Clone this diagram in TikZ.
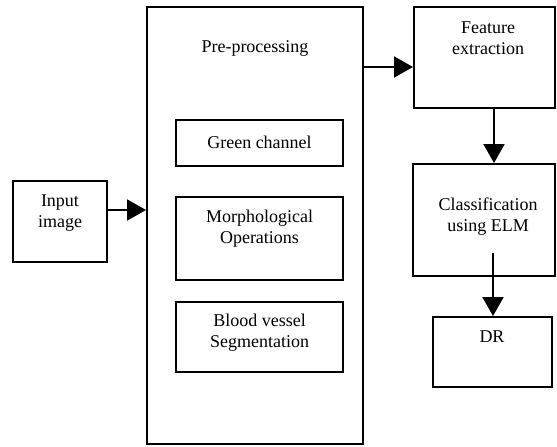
\documentclass[tikz,border=0pt]{standalone}
\usepackage{fontspec}
\setmainfont{Liberation Serif}
\usetikzlibrary{arrows.meta}
\tikzset{
  box/.style={draw=black, line width=2pt, rectangle, inner sep=0pt, fill=white},
  lbl/.style={align=center, inner sep=0pt, font=\fontsize{18}{21}\selectfont},
  arr/.style={line width=2pt, -{Triangle[length=19pt,width=21pt]}}
}
\begin{document}
\begin{tikzpicture}[x=1pt,y=-1pt]
\useasboundingbox (0,0) rectangle (557,447);
% boxes
\node[box, minimum width=94pt, minimum height=81pt] (inp) at (60,221.5) {};
\node[box, minimum width=216pt, minimum height=437pt] (pre) at (255,225.5) {};
\node[box, minimum width=167pt, minimum height=46pt] (green) at (259.5,143) {};
\node[box, minimum width=167pt, minimum height=83pt] (morph) at (259.5,238.5) {};
\node[box, minimum width=167pt, minimum height=70pt] (blood) at (259.5,337) {};
\node[box, minimum width=141pt, minimum height=101pt] (feat) at (484.5,57.5) {};
\node[box, minimum width=142pt, minimum height=112pt] (cls) at (484,220) {};
\node[box, minimum width=119pt, minimum height=70pt] (dr) at (492.5,352) {};
% texts
\node[lbl] (tinp) at (60,213) {Input\\image};
\node[lbl] (tpre) at (255,48) {Pre-processing};
\node[lbl] (tgreen) at (259.5,142) {Green channel};
\node[lbl] (tmorph) at (259.5,229) {Morphological\\Operations};
\node[lbl] (tblood) at (259.5,333) {Blood vessel\\Segmentation};
\node[lbl] (tfeat) at (488,38) {Feature\\extraction};
\node[lbl] (tcls) at (488,217) {Classification\\using ELM};
\node[lbl] (tdr) at (492,337) {DR};
% connector helpers
\coordinate (a1) at (0,210);
\coordinate (a2) at (0,67);
\coordinate (a3) at (494,0);
\coordinate (a4) at (493,253);
% connectors
\draw[arr] (inp.east |- a1) -- (pre.west |- a1);
\draw[arr] (pre.east |- a2) -- (feat.west |- a2);
\draw[arr] (feat.south -| a3) -- (cls.north -| a3);
\draw[arr] (a4) -- (dr.north -| a4);
\end{tikzpicture}
\end{document}
